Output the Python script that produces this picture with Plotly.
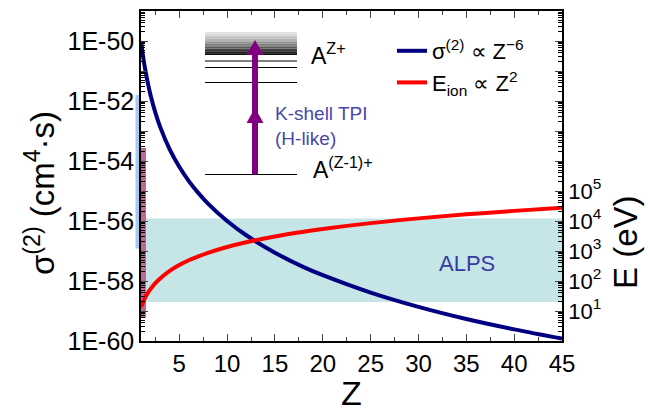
import math
import plotly.graph_objects as go

# ---------------- data ----------------
Z = [1, 1.25, 1.5, 1.75, 2, 2.5, 3, 4, 5, 6, 7, 8, 10, 12, 15, 18, 20, 25, 30, 35, 40, 45]
sigma2 = [1e-50, 2.6e-51, 8.8e-52, 3.5e-52, 1.56e-52, 4.1e-53, 1.37e-53, 2.44e-54, 6.4e-55,
          2.14e-55, 8.5e-56, 3.8e-56, 1.0e-56, 3.35e-57, 8.8e-58, 2.9e-58, 1.56e-58, 4.1e-59,
          1.37e-59, 5.4e-60, 2.44e-60, 1.2e-60]
E_ion = [13.6, 21, 31, 42, 54, 85, 122, 218, 340, 490, 666, 870, 1360, 1960, 3060, 4400,
         5440, 8500, 12240, 16660, 21760, 27540]

sigma_tickvals = [10.0 ** (-k) for k in range(60, 48, -1)]
sigma_ticktext = ["1E-%d" % k if k % 2 == 0 and k >= 50 else "" for k in range(60, 48, -1)]
sigma_minor = [m * 10.0 ** (-k) for k in range(60, 49, -1) for m in range(2, 10)]
E_tickvals = [10.0 ** k for k in range(0, 12)]
E_ticktext = ["10<sup>%d</sup>" % k if 1 <= k <= 5 else "" for k in range(0, 12)]
E_minor = [m * 10.0 ** k for k in range(0, 11) for m in range(2, 10)]
x_tickvals = [5, 10, 15, 20, 25, 30, 35, 40, 45]

alps_E = [20, 1.2e4]            # ALPS band (eV)
blue_band = [1.6e-52, 1.2e-57]  # light-blue bar on sigma axis
pink_band = [2.7e-54, 5.9e-60]  # pink bar on sigma axis

# ---------------- layout constants ----------------
W, H = 648, 412
ML, MR, MT, MB = 141, 86, 11, 71
PW, PH = W - ML - MR, H - MT - MB
FONT = "Liberation Sans, Arial, sans-serif"
S_LO, S_HI = -60, -49
E_LO, E_HI = 0, 11


def px(x):
    return (x - ML) / PW


def py(y):
    return (MT + PH - y) / PH


def ys(v):
    return (math.log10(v) - S_LO) / (S_HI - S_LO)


def ye(v):
    return (math.log10(v) - E_LO) / (E_HI - E_LO)


fig = go.Figure()
fig.add_trace(go.Scatter(x=Z, y=sigma2, mode="lines", line=dict(color="#000080", width=4, shape="spline"),
                         name="σ<sup>(2)</sup> ∝ Z<sup>−6</sup>", yaxis="y"))
fig.add_trace(go.Scatter(x=Z, y=E_ion, mode="lines", line=dict(color="#ff0000", width=4, shape="spline"),
                         name="E<sub>ion</sub> ∝ Z<sup>2</sup>", yaxis="y2"))
# invisible carriers for the minor-tick axes
fig.add_trace(go.Scatter(x=[Z[0]], y=[sigma2[0]], yaxis="y3", mode="markers", marker=dict(opacity=0),
                         showlegend=False, hoverinfo="skip"))
fig.add_trace(go.Scatter(x=[Z[0]], y=[E_ion[0]], yaxis="y4", mode="markers", marker=dict(opacity=0),
                         showlegend=False, hoverinfo="skip"))

shapes = []
# ALPS band
shapes.append(dict(type="rect", xref="paper", yref="paper", x0=0, x1=1, y0=ye(alps_E[0]), y1=ye(alps_E[1]),
                   fillcolor="rgb(198,229,231)", line=dict(width=0), layer="below"))
# left bars
shapes.append(dict(type="rect", xref="paper", yref="paper", x0=px(135.5), x1=px(141),
                   y0=ys(blue_band[1]), y1=ys(blue_band[0]),
                   fillcolor="rgb(168,202,242)", line=dict(width=0), layer="below"))
shapes.append(dict(type="rect", xref="paper", yref="paper", x0=px(141), x1=px(146),
                   y0=ys(pink_band[1]), y1=ys(pink_band[0]),
                   fillcolor="rgb(190,104,150)", line=dict(width=0), layer="below"))

# energy level schematic: gradient continuum box
nstrip = 14
top, bot = 32, 55
for i in range(nstrip):
    y0 = top + (bot - top) * i / nstrip
    y1 = top + (bot - top) * (i + 1) / nstrip
    g = int(225 - 215 * (i / (nstrip - 1)) ** 1.3)
    shapes.append(dict(type="rect", xref="paper", yref="paper", x0=px(205), x1=px(297),
                       y0=py(y1), y1=py(y0), fillcolor="rgb(%d,%d,%d)" % (g, g, g),
                       line=dict(width=0), layer="above"))
for lv in [61, 67.5, 82.5, 174.5]:
    shapes.append(dict(type="line", xref="paper", yref="paper", x0=px(205), x1=px(297),
                       y0=py(lv), y1=py(lv), line=dict(color="black", width=1.2), layer="above"))
purple = "#800080"
shapes.append(dict(type="rect", xref="paper", yref="paper", x0=px(252), x1=px(258),
                   y0=py(174.5), y1=py(54), fillcolor=purple, line=dict(width=0), layer="above"))
for tip, base in [(108, 123), (40, 55)]:
    path = "M %f %f L %f %f L %f %f Z" % (px(246.5), py(base), px(255), py(tip), px(263.5), py(base))
    shapes.append(dict(type="path", xref="paper", yref="paper", path=path, fillcolor=purple,
                       line=dict(width=0), layer="above"))

annotations = [
    dict(text="A<sup>Z+</sup>", x=px(309), y=py(54), xref="paper", yref="paper", xanchor="left",
         yanchor="middle", showarrow=False, font=dict(size=23, color="black", family=FONT)),
    dict(text="A<sup>(Z-1)+</sup>", x=px(311), y=py(168), xref="paper", yref="paper", xanchor="left",
         yanchor="middle", showarrow=False, font=dict(size=23, color="black", family=FONT)),
    dict(text="K-shell TPI<br>(H-like)", x=px(273), y=py(126), xref="paper", yref="paper", xanchor="left",
         yanchor="middle", align="left", showarrow=False, font=dict(size=19, color="#4848a8", family=FONT)),
    dict(text="ALPS", x=px(467), y=py(263), xref="paper", yref="paper", xanchor="center",
         yanchor="middle", showarrow=False, font=dict(size=22, color="#3a3aa0", family=FONT)),
    # axis titles
    dict(text="σ<sup>(2)</sup> (cm<sup>4</sup>·s)", x=px(40), y=py(193), xref="paper", yref="paper",
         xanchor="center", yanchor="middle", textangle=-90, showarrow=False,
         font=dict(size=33, color="black", family=FONT)),
    dict(text="E (eV)", x=px(626), y=py(242), xref="paper", yref="paper",
         xanchor="center", yanchor="middle", textangle=-90, showarrow=False,
         font=dict(size=33, color="black", family=FONT)),
]

fig.update_layout(
    width=W, height=H, margin=dict(l=ML, r=MR, t=MT, b=MB, autoexpand=False),
    paper_bgcolor="white", plot_bgcolor="rgba(0,0,0,0)",
    font=dict(family=FONT, color="black"),
    shapes=shapes, annotations=annotations,
    showlegend=True,
    legend=dict(x=px(392), y=py(30), xanchor="left", yanchor="top", bgcolor="rgba(0,0,0,0)",
                font=dict(size=22, family=FONT), tracegroupgap=0, itemwidth=30),
    xaxis=dict(range=[1, 45], tickvals=x_tickvals, ticks="inside", ticklen=7, tickwidth=1.3,
               showline=True, linewidth=1.5, linecolor="black", mirror="ticks", showgrid=False,
               zeroline=False, tickfont=dict(size=24),
               minor=dict(dtick=2.5, tick0=0, ticks="inside", ticklen=4, tickwidth=1.2, showgrid=False),
               title=dict(text="Z", font=dict(size=34), standoff=6)),
    yaxis=dict(type="log", range=[S_LO, S_HI], tickvals=sigma_tickvals, ticktext=sigma_ticktext,
               ticks="inside", ticklen=7, tickwidth=1.3, showline=True, linewidth=1.5, linecolor="black",
               showgrid=False, zeroline=False, tickfont=dict(size=25)),
    yaxis2=dict(type="log", range=[E_LO, E_HI], overlaying="y", side="right", tickvals=E_tickvals,
                ticktext=E_ticktext, ticks="inside", ticklen=7, tickwidth=1.3, showline=True,
                linewidth=1.5, linecolor="black", showgrid=False, zeroline=False, tickfont=dict(size=22)),
    yaxis3=dict(type="log", range=[S_LO, S_HI], overlaying="y", side="left", anchor="x",
                tickvals=sigma_minor, showticklabels=False, ticks="inside", ticklen=4, tickwidth=1.2,
                tickcolor="black", showline=False, showgrid=False, zeroline=False),
    yaxis4=dict(type="log", range=[E_LO, E_HI], overlaying="y", side="right", anchor="x",
                tickvals=E_minor, showticklabels=False, ticks="inside", ticklen=4, tickwidth=1.2,
                tickcolor="black", showline=False, showgrid=False, zeroline=False),
)

fig.write_html("out.html")
